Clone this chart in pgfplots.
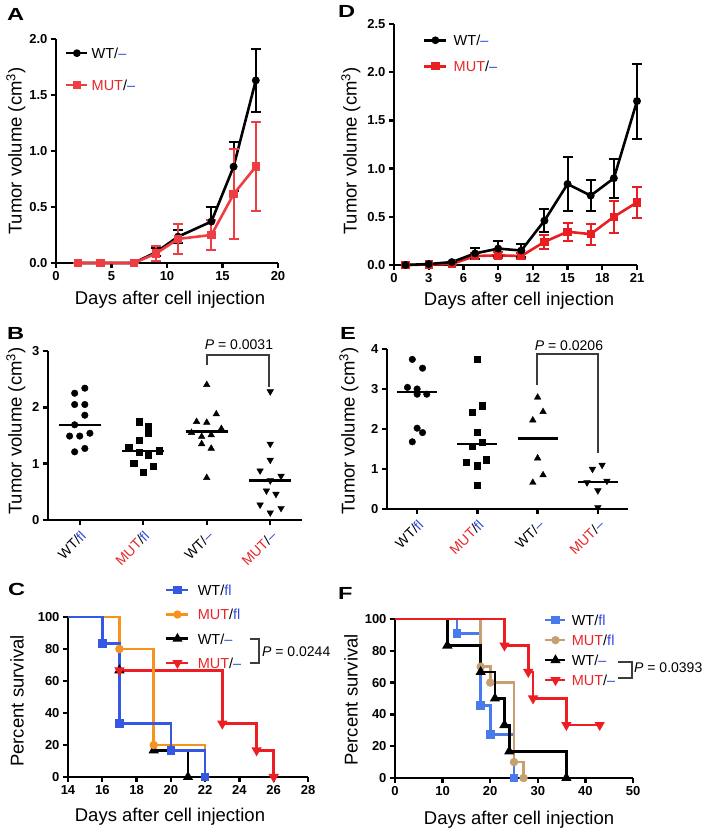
\documentclass[border=0pt]{standalone}
\usepackage{fontspec}
\setmainfont{Liberation Sans}
\usepackage{pgfplots}
\pgfplotsset{compat=1.18}

\definecolor{redA}{RGB}{238,62,68}
\definecolor{redD}{RGB}{232,30,32}
\definecolor{blueC}{RGB}{52,88,228}
\definecolor{orangeC}{RGB}{246,146,30}
\definecolor{redC}{RGB}{236,30,36}
\definecolor{blueF}{RGB}{72,122,236}
\definecolor{tanF}{RGB}{198,160,112}
\definecolor{txtred}{RGB}{232,38,40}
\definecolor{txtblue}{RGB}{48,72,222}
\definecolor{brk}{RGB}{60,60,60}

\newcommand{\lab}{\fontsize{18.5}{20}\selectfont}
\newcommand{\pv}{\fontsize{14}{16}\selectfont}
\newcommand{\plet}[1]{\scalebox{1.35}[1]{\bfseries\fontsize{17.5}{18}\selectfont #1}}
\newcommand{\fl}{\textcolor{txtblue}{fl}}
\newcommand{\ms}{\textcolor{txtblue}{\textendash}}
\newcommand{\mut}{\textcolor{txtred}{MUT}}

\pgfplotsset{
  panel/.style={
    scale only axis, anchor=south west, clip=false,
    axis lines=left, axis line style={line width=2.8pt,-},
    tick align=outside, major tick length=5pt,
    major tick style={line width=2.4pt,black},
    /pgf/number format/assume math mode=true,
    yticklabel style={font=\bfseries\fontsize{13}{13}\selectfont},
    xticklabel style={font=\bfseries\fontsize{13}{13}\selectfont},
    legend cell align=left,
  },
  onedec/.style={yticklabel style={/pgf/number format/fixed,/pgf/number format/fixed zerofill,/pgf/number format/precision=1}},
  leg/.style n args={5}{
    legend style={draw=none, fill=none, inner sep=0pt, at={(#1,#2)}, anchor=north west,
      row sep=#3, column sep=#4, font=\fontsize{14.5}{16}\selectfont,
      nodes={inner sep=0pt, text height=10.5pt, text depth=0pt}},
    legend image code/.code={\draw[mark repeat=2,mark phase=2,##1] plot coordinates {(0pt,0pt) (#5/2,0pt) (#5,0pt)};}},
  ebar/.style={error bars/.cd, y dir=both, y explicit,
    error bar style={line width=2pt},
    error mark options={rotate=90, mark size=5pt, line width=2pt}},
  dot/.style={only marks, black, mark options={solid}},
  med/.style={black, line width=2.2pt, forget plot},
  km/.style={line width=2.7pt, const plot, forget plot, mark options={solid}},
}

\begin{document}
\begin{tikzpicture}
\useasboundingbox (0,0) rectangle (707pt,840pt);

% ---------------- A
\begin{axis}[panel, at={(56pt,577pt)}, width=222pt, height=224pt,
  xmin=0, xmax=20, ymin=0, ymax=2, xtick={0,5,10,15,20}, ytick={0,0.5,1,1.5,2}, onedec,
  leg={0.04}{0.961}{21.5pt}{3pt}{21pt}]
\addlegendimage{black, line width=2.6pt, mark=*, mark size=2.5pt, mark options={solid}}
\addlegendentry{WT/\ms}
\addlegendimage{redA, line width=2.6pt, mark=square*, mark size=2.8pt, mark options={solid}}
\addlegendentry{\mut/\ms}
\addplot[black, line width=2.6pt, mark=*, mark size=2.6pt, forget plot, ebar] coordinates {
  (2,0) +- (0,0) (4,0) +- (0,0) (7,0) +- (0,0)
  (9,0.095) +- (0,0.035) (11,0.235) +- (0,0.06) (14,0.37) +- (0,0.13)
  (16,0.86) +- (0,0.22) (18,1.63) +- (0,0.28)};
\addplot[redA, line width=2.6pt, mark=square*, mark size=2.9pt, forget plot, ebar] coordinates {
  (2,0) +- (0,0) (4,0) +- (0,0) (7,0) +- (0,0)
  (9,0.083) +- (0,0.065) (11,0.215) +- (0,0.135) (14,0.25) +- (0,0.135)
  (16,0.615) +- (0,0.405) (18,0.86) +- (0,0.40)};
\end{axis}

% ---------------- D
\begin{axis}[panel, at={(394pt,575pt)}, width=243pt, height=241pt,
  xmin=0, xmax=21, ymin=0, ymax=2.5, xtick={0,3,...,21}, ytick={0,0.5,1,1.5,2,2.5}, onedec,
  leg={0.119}{0.955}{15.5pt}{6pt}{22pt}]
\addlegendimage{black, line width=2.6pt, mark=*, mark size=2.5pt, mark options={solid}}
\addlegendentry{WT/\ms}
\addlegendimage{redD, line width=2.6pt, mark=square*, mark size=2.8pt, mark options={solid}}
\addlegendentry{\mut/\ms}
\addplot[redD, line width=2.6pt, mark=square*, mark size=2.9pt, forget plot, ebar] coordinates {
  (1,0) +- (0,0) (3,0.005) +- (0,0) (5,0.01) +- (0,0)
  (7,0.093) +- (0,0.03) (9,0.10) +- (0,0.03) (11,0.093) +- (0,0.03)
  (13,0.24) +- (0,0.07) (15,0.345) +- (0,0.095) (17,0.32) +- (0,0.11)
  (19,0.50) +- (0,0.165) (21,0.65) +- (0,0.16)};
\addplot[black, line width=2.6pt, mark=*, mark size=2.6pt, forget plot, ebar] coordinates {
  (1,0) +- (0,0) (3,0.01) +- (0,0) (5,0.03) +- (0,0)
  (7,0.12) +- (0,0.06) (9,0.17) +- (0,0.08) (11,0.15) +- (0,0.07)
  (13,0.46) +- (0,0.12) (15,0.84) +- (0,0.28) (17,0.72) +- (0,0.165)
  (19,0.90) +- (0,0.20) (21,1.70) +- (0,0.39)};
\end{axis}

% ---------------- B
\begin{axis}[panel, at={(48pt,320pt)}, width=254pt, height=169pt,
  xmin=0.5, xmax=4.5, ymin=0, ymax=3, xtick={1,2,3,4}, ytick={0,1,2,3},
  xticklabels={WT/\fl, \mut/\fl, WT/\ms, \mut/\ms},
  xticklabel style={rotate=45, anchor=north east, font=\fontsize{14}{14}\selectfont}]
\addplot[dot, mark=*, mark size=3.3pt] coordinates {
  (0.92,2.25) (1.08,2.34) (0.92,2.05) (1.08,2.05) (1.08,1.86) (0.92,1.69)
  (0.84,1.49) (1.0,1.49) (1.16,1.54) (0.92,1.21) (1.08,1.27)};
\addplot[med] coordinates {(0.67,1.69) (1.33,1.69)};
\addplot[dot, mark=square*, mark size=3.1pt] coordinates {
  (1.93,1.745) (2.08,1.66) (2.08,1.54) (1.93,1.41) (1.77,1.29) (1.93,1.20)
  (2.08,1.15) (2.25,1.23) (1.85,1.01) (2.16,0.96) (2.0,0.85)};
\addplot[med] coordinates {(1.67,1.23) (2.33,1.23)};
\addplot[dot, mark=triangle*, mark size=3.8pt] coordinates {
  (3.0,2.40) (3.15,1.88) (2.84,1.745) (3.0,1.73) (2.76,1.55) (3.23,1.62)
  (2.92,1.48) (3.07,1.51) (2.92,1.35) (3.07,1.27) (3.0,0.75)};
\addplot[med] coordinates {(2.67,1.57) (3.33,1.57)};
\addplot[dot, mark=triangle*, mark size=3.8pt, mark options={rotate=180}] coordinates {
  (4.0,2.28) (4.0,1.35) (4.0,1.065) (3.84,0.875) (4.17,0.78) (4.0,0.70)
  (3.94,0.52) (4.09,0.46) (3.84,0.27) (4.17,0.21) (4.0,0.13)};
\addplot[med] coordinates {(3.67,0.70) (4.33,0.70)};
\end{axis}

% ---------------- E
\begin{axis}[panel, at={(387pt,331pt)}, width=241pt, height=160pt,
  xmin=0.5, xmax=4.5, ymin=0, ymax=4, xtick={1,2,3,4}, ytick={0,1,2,3,4},
  xticklabels={WT/\fl, \mut/\fl, WT/\ms, \mut/\ms},
  xticklabel style={rotate=45, anchor=north east, font=\fontsize{14}{14}\selectfont}]
\addplot[dot, mark=*, mark size=3.3pt] coordinates {
  (0.92,3.74) (1.09,3.52) (0.84,3.04) (1.0,3.00) (1.0,2.87) (1.16,2.87)
  (1.0,2.02) (1.09,1.91) (0.92,1.68)};
\addplot[med] coordinates {(0.67,2.92) (1.33,2.92)};
\addplot[dot, mark=square*, mark size=3.1pt] coordinates {
  (2.0,3.74) (2.08,2.58) (1.91,2.41) (2.0,1.91) (2.08,1.67) (1.91,1.56)
  (1.82,1.17) (2.15,1.23) (2.0,1.08) (2.0,0.60)};
\addplot[med] coordinates {(1.67,1.62) (2.33,1.62)};
\addplot[dot, mark=triangle*, mark size=3.8pt] coordinates {
  (3.0,2.79) (3.09,2.43) (2.92,2.22) (3.0,1.27) (3.09,0.85) (2.92,0.66)};
\addplot[med] coordinates {(2.67,1.76) (3.33,1.76)};
\addplot[dot, mark=triangle*, mark size=3.8pt, mark options={rotate=180}] coordinates {
  (3.91,1.00) (4.07,1.10) (3.82,0.66) (4.15,0.70) (4.0,0.46) (4.0,0.04)};
\addplot[med] coordinates {(3.67,0.67) (4.33,0.67)};
\end{axis}

% ---------------- C
\begin{axis}[panel, at={(68pt,63pt)}, width=240pt, height=160pt,
  xmin=14, xmax=28, ymin=0, ymax=100, xtick={14,16,...,28}, ytick={0,20,...,100},
  leg={0.404}{1.2016}{13.8pt}{8pt}{22pt}]
\addlegendimage{blueC, line width=2.6pt, mark=square*, mark size=3pt, mark options={solid}}
\addlegendentry{WT/\fl}
\addlegendimage{orangeC, line width=2.6pt, mark=*, mark size=2.8pt, mark options={solid}}
\addlegendentry{\mut/\fl}
\addlegendimage{black, line width=2.6pt, mark=triangle*, mark size=3.3pt, mark options={solid}}
\addlegendentry{WT/\ms}
\addlegendimage{redC, line width=2.6pt, mark=triangle*, mark size=3.3pt, mark options={solid,rotate=180}}
\addlegendentry{\mut/\ms}
\addplot[km, black, mark=triangle*, mark size=3.3pt, mark indices={2,3,4}]
  coordinates {(14,100) (17,66.67) (19,16.67) (21,0)};
\addplot[km, redC, mark=triangle*, mark size=3.3pt, mark options={rotate=180}, mark indices={2,3,4,5}]
  coordinates {(14,100) (17,66.67) (23,33.33) (25,16.67) (26,0)};
\addplot[km, orangeC, mark=*, mark size=2.8pt, mark indices={2,3,4}]
  coordinates {(14,100) (17,80) (19,20) (22,0)};
\addplot[km, blueC, mark=square*, mark size=3pt, mark indices={2,3,4,5}]
  coordinates {(14,100) (16,83.33) (17,33.33) (20,16.67) (22,0)};
\end{axis}

% ---------------- F
\begin{axis}[panel, at={(395pt,62pt)}, width=238pt, height=159pt,
  xmin=0, xmax=50, ymin=0, ymax=100, xtick={0,10,...,50}, ytick={0,20,...,100},
  leg={0.626}{1.027}{9.5pt}{5pt}{20pt}]
\addlegendimage{blueF, line width=2.6pt, mark=square*, mark size=3pt, mark options={solid}}
\addlegendentry{WT/\fl}
\addlegendimage{tanF, line width=2.6pt, mark=*, mark size=2.8pt, mark options={solid}}
\addlegendentry{\mut/\fl}
\addlegendimage{black, line width=2.6pt, mark=triangle*, mark size=3.3pt, mark options={solid}}
\addlegendentry{WT/\ms}
\addlegendimage{redC, line width=2.6pt, mark=triangle*, mark size=3.3pt, mark options={solid,rotate=180}}
\addlegendentry{\mut/\ms}
\addplot[km, blueF, mark=square*, mark size=3pt, mark indices={2,3,4,5}]
  coordinates {(0,100) (13,90.91) (18,45.45) (20,27.27) (25,0)};
\addplot[km, tanF, mark=*, mark size=2.8pt, mark indices={2,3,4,5}]
  coordinates {(0,100) (18,70) (20,60) (25,10) (27,0)};
\addplot[km, black, mark=triangle*, mark size=3.3pt, mark indices={2,3,4,5,6,7}]
  coordinates {(0,100) (11,83.33) (18,66.67) (21,50) (23,33.33) (24,16.67) (36,0)};
\addplot[km, redC, mark=triangle*, mark size=3.3pt, mark options={rotate=180}, mark indices={2,3,4,5,6}]
  coordinates {(0,100) (23,83.33) (28,66.67) (29,50) (36,33.33) (43,33.33)};
\end{axis}

% ---------------- text: panel letters, axis labels, P values
\begin{scope}[every node/.style={inner sep=0pt}]
\node[anchor=north west] at (7pt,832pt) {\plet{A}};
\node[anchor=north west] at (338pt,835pt) {\plet{D}};
\node[anchor=north west] at (7pt,513pt) {\plet{B}};
\node[anchor=north west] at (340pt,513pt) {\plet{E}};
\node[anchor=north west] at (8pt,257pt) {\plet{C}};
\node[anchor=north west] at (338pt,253pt) {\plet{F}};

\node[rotate=90] at (16pt,689pt) {\lab Tumor volume (cm\textsuperscript{3})};
\node[rotate=90] at (351pt,689pt) {\lab Tumor volume (cm\textsuperscript{3})};
\node[rotate=90] at (16pt,409pt) {\lab Tumor volume (cm\textsuperscript{3})};
\node[rotate=90] at (349pt,409pt) {\lab Tumor volume (cm\textsuperscript{3})};
\node[rotate=90] at (17pt,139pt) {\lab Percent survival};
\node[rotate=90] at (351pt,140pt) {\lab Percent survival};

\node at (170pt,540pt) {\lab Days after cell injection};
\node at (519pt,539pt) {\lab Days after cell injection};
\node at (170pt,23.5pt) {\lab Days after cell injection};
\node at (519pt,20.5pt) {\lab Days after cell injection};

\node at (239pt,495pt) {\pv\textit{P} = 0.0031};
\node at (569pt,494pt) {\pv\textit{P} = 0.0206};
\node[anchor=west] at (262pt,188pt) {\pv\textit{P} = 0.0244};
\node[anchor=west] at (634pt,172pt) {\pv\textit{P} = 0.0393};
\end{scope}

\begin{scope}[brk, line width=1.2pt]
\draw (207pt,475pt) -- (207pt,485pt) -- (269pt,485pt) -- (269pt,453pt);
\draw (537pt,455pt) -- (537pt,486pt) -- (598pt,486pt) -- (598pt,387pt);
\draw (250pt,201pt) -- (259pt,201pt) -- (259pt,177pt) -- (250pt,177pt);
\draw (618pt,178pt) -- (632pt,178pt) -- (632pt,162pt) -- (618pt,162pt);
\end{scope}
\end{tikzpicture}
\end{document}
